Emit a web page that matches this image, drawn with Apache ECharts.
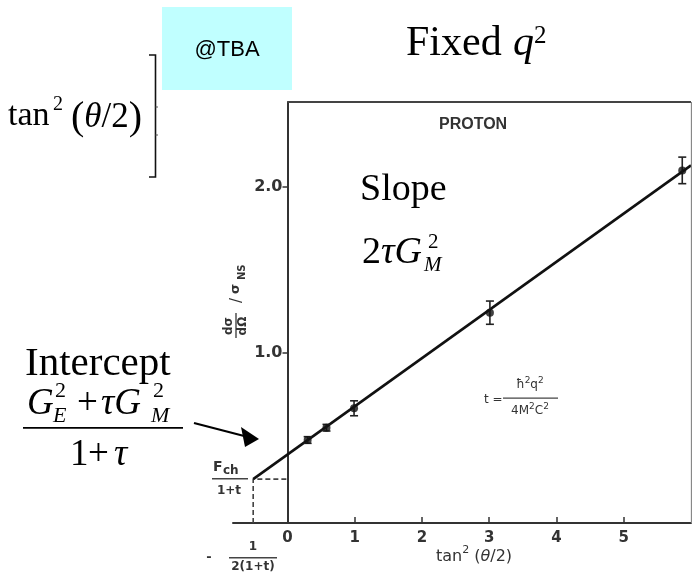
<!DOCTYPE html>
<html><head><meta charset="utf-8">
<script src="https://cdn.jsdelivr.net/npm/echarts@6/dist/echarts.min.js"></script>
<style>html,body{margin:0;padding:0;background:#fff}#c{width:692px;height:576px}</style>
</head><body><div id="c"></div>
<script>
// ---- data ----
const pointX = [0.30, 0.58, 0.99, 3.01, 5.87];
const pointY = [0.476, 0.55, 0.667, 1.243, 2.10];
const pointErr = [0.02, 0.02, 0.045, 0.07, 0.08];
const fitX = [-0.51, 6.0];
const fitY = [0.24, 2.13];
const interceptPoint = [-0.51, 0.24];
const xTickLabels = [0, 1, 2, 3, 4, 5];
const xTickMarks = [1, 2, 3, 4, 5];
const yTickLabels = [1.0, 2.0];
const xRange = [-0.81, 6.0];
const yRange = [-0.024, 2.512];

const SERIF = 'Liberation Serif';
const SANS = 'Liberation Sans';
const SCAN = 'DejaVu Sans';

const GRID = {left: 233, right: 1, top: 102, bottom: 53};
const gridWidth = 692 - GRID.left - GRID.right;
// y axis sits at x = 0, inside the grid
const yAxisOffset = -((0 - xRange[0]) / (xRange[1] - xRange[0])) * gridWidth;

function C(x, cy, text, size, o) {
  o = o || {};
  return {type: 'text', x: x, y: cy, silent: true, z: 50,
    style: {text: text, fontSize: size, fontFamily: o.fam || SERIF,
      fontStyle: o.italic ? 'italic' : 'normal', fontWeight: o.bold ? 'bold' : 'normal',
      fill: o.fill || '#000', textAlign: o.align || 'left', textVerticalAlign: 'middle',
      align: o.align || 'left', verticalAlign: 'middle'}};
}
function R(x, cy, text, rich, o) {
  o = o || {};
  return {type: 'text', x: x, y: cy, silent: true, z: 50,
    style: {text: text, rich: rich, fill: o.fill || '#000', textAlign: o.align || 'left',
      textVerticalAlign: 'middle', align: o.align || 'left', verticalAlign: 'middle'}};
}
function L(x1, y1, x2, y2, w, col) {
  return {type: 'line', silent: true, z: 50, shape: {x1: x1, y1: y1, x2: x2, y2: y2},
    style: {stroke: col || '#000', lineWidth: w || 1.5}};
}

const graphics = [];
// cyan sticker
graphics.push({type: 'rect', silent: true, z: 40, shape: {x: 162, y: 7, width: 130, height: 83}, style: {fill: '#c0ffff'}});
graphics.push(C(227, 50, '@TBA', 22, {fam: SANS, align: 'center'}));
// tan^2(theta/2) with bracket
graphics.push(C(8, 116, 'tan', 34));
graphics.push(C(53, 105, '2', 20));
graphics.push(R(71, 118, '{p|(}{i|θ}{n|/2}{p|)}', {
  p: {fontFamily: SERIF, fontSize: 40, fill: '#000'},
  i: {fontFamily: SERIF, fontSize: 35, fontStyle: 'italic', fill: '#000'},
  n: {fontFamily: SERIF, fontSize: 35, fill: '#000'}
}));
graphics.push({type: 'polyline', silent: true, z: 50, shape: {points: [[149, 55], [155.5, 55], [155.5, 177], [149, 177]]},
  style: {stroke: '#111', lineWidth: 1.6, fill: null}});
graphics.push(L(155.5, 107, 158, 107, 1, '#555'));
graphics.push(L(155.5, 135, 158, 135, 1, '#555'));
// Fixed q^2
graphics.push(C(406, 44, 'Fixed', 42));
graphics.push(C(513, 44, 'q', 42, {italic: true}));
graphics.push(C(534, 36, '2', 25));
// PROTON
graphics.push(C(439, 125, 'PROTON', 16, {fam: SANS, bold: true, fill: '#333'}));
// Slope 2 tau G_M^2
graphics.push(C(360, 190, 'Slope', 38));
graphics.push(R(362, 253, '{n|2}{i|τG}', {
  n: {fontFamily: SERIF, fontSize: 38, fill: '#000'},
  i: {fontFamily: SERIF, fontSize: 38, fontStyle: 'italic', fill: '#000'}
}));
graphics.push(C(428, 242, '2', 21));
graphics.push(C(424, 265, 'M', 21, {italic: true}));
// Intercept
graphics.push(C(25, 364, 'Intercept', 41));
graphics.push(C(27, 404, 'G', 37, {italic: true}));
graphics.push(C(55, 391, '2', 22));
graphics.push(C(53, 416, 'E', 22, {italic: true}));
graphics.push(C(77, 404, '+', 37));
graphics.push(C(101, 404, 'τG', 37, {italic: true}));
graphics.push(C(153, 391, '2', 22));
graphics.push(C(151, 416, 'M', 22, {italic: true}));
graphics.push({type: 'rect', silent: true, z: 50, shape: {x: 23, y: 427, width: 160, height: 1.8}, style: {fill: '#000'}});
graphics.push(C(70, 455, '1', 37));
graphics.push(C(88, 455, '+', 37));
graphics.push(C(114, 455, 'τ', 37, {italic: true}));
// arrow
graphics.push(L(194, 423, 248, 437, 2.2, '#000'));
graphics.push({type: 'polygon', silent: true, z: 50, shape: {points: [[259, 439], [241, 427], [245, 447]]}, style: {fill: '#000'}});
// scanned annotations
graphics.push(C(213, 467, 'F', 14, {fam: SCAN, bold: true, fill: '#333'}));
graphics.push(C(223, 471, 'ch', 12, {fam: SCAN, bold: true, fill: '#333'}));
graphics.push({type: 'rect', silent: true, z: 50, shape: {x: 212, y: 478, width: 36, height: 1.5}, style: {fill: '#444'}});
graphics.push(C(229, 491, '1+t', 12, {fam: SCAN, bold: true, fill: '#333', align: 'center'}));
graphics.push(C(209, 558, '-', 13, {fam: SCAN, bold: true, fill: '#333', align: 'center'}));
graphics.push(C(253, 547, '1', 12, {fam: SCAN, bold: true, fill: '#333', align: 'center'}));
graphics.push({type: 'rect', silent: true, z: 50, shape: {x: 229, y: 557, width: 48, height: 1.5}, style: {fill: '#444'}});
graphics.push(C(253, 567, '2(1+t)', 12, {fam: SCAN, bold: true, fill: '#333', align: 'center'}));
// t = hbar^2 q^2 / 4 M^2 c^2
graphics.push(C(484, 400, 't =', 12, {fam: SCAN, fill: '#333'}));
const smallRich = {
  a: {fontFamily: SCAN, fontSize: 12, fill: '#333', lineHeight: 18},
  s: {fontFamily: SCAN, fontSize: 9, fill: '#333', lineHeight: 9, verticalAlign: 'top'}
};
graphics.push(R(530, 385, '{a|ħ}{s|2}{a|q}{s|2}', smallRich, {align: 'center'}));
graphics.push({type: 'rect', silent: true, z: 50, shape: {x: 503, y: 397.5, width: 55, height: 1.3}, style: {fill: '#444'}});
graphics.push(R(530, 411, '{a|4M}{s|2}{a|C}{s|2}', smallRich, {align: 'center'}));
// x axis title
graphics.push(R(474, 557, '{a|tan}{s|2}{a| (}{i|θ}{a|/2)}', {
  a: {fontFamily: SCAN, fontSize: 16, fill: '#333', lineHeight: 24},
  i: {fontFamily: SCAN, fontSize: 16, fontStyle: 'italic', fill: '#333', lineHeight: 24},
  s: {fontFamily: SCAN, fontSize: 11, fill: '#333', lineHeight: 11, verticalAlign: 'top'}
}, {align: 'center'}));
// y axis title (rotated)
graphics.push({type: 'group', x: 236, y: 340, rotation: Math.PI / 2, silent: true, z: 50, children: [
  C(14, -7, 'dσ', 12, {fam: SCAN, bold: true, fill: '#333', align: 'center'}),
  {type: 'rect', silent: true, shape: {x: 2, y: -0.7, width: 25, height: 1.4}, style: {fill: '#444'}},
  C(14, 7, 'dΩ', 12, {fam: SCAN, bold: true, fill: '#333', align: 'center'}),
  C(37, 1, '/', 15, {fam: SCAN, fill: '#333'}),
  C(46, 0, 'σ', 13, {fam: SCAN, bold: true, fill: '#333'}),
  C(60, 6, 'NS', 10, {fam: SCAN, bold: true, fill: '#333'})
]});

const chart = echarts.init(document.getElementById('c'), null, {renderer: 'canvas'});
chart.setOption({
  animation: false,
  backgroundColor: '#fff',
  grid: {left: GRID.left, right: GRID.right, top: GRID.top, bottom: GRID.bottom, containLabel: false},
  xAxis: {
    type: 'value', min: xRange[0], max: xRange[1],
    axisLine: {onZero: false, lineStyle: {color: '#333', width: 2}},
    axisTick: {show: true, inside: true, length: 6, customValues: xTickMarks, lineStyle: {color: '#333', width: 1.5}},
    axisLabel: {customValues: xTickLabels, formatter: function (v) { return String(v); },
      color: '#333', fontSize: 15, fontFamily: SCAN, fontWeight: 'bold', margin: 8},
    splitLine: {show: false}
  },
  yAxis: {
    type: 'value', min: yRange[0], max: yRange[1], offset: yAxisOffset,
    axisLine: {show: true, onZero: false, lineStyle: {color: '#333', width: 2}},
    axisTick: {show: true, inside: false, length: 5, customValues: yTickLabels, lineStyle: {color: '#333', width: 1.5}},
    axisLabel: {customValues: yTickLabels, formatter: function (v) { return v.toFixed(1); },
      color: '#333', fontSize: 16, fontFamily: SCAN, fontWeight: 'bold', margin: 5},
    splitLine: {show: false}
  },
  graphic: graphics,
  series: [
    {
      type: 'line', name: 'fit', data: fitX.map(function (x, i) { return [x, fitY[i]]; }),
      symbol: 'none', lineStyle: {color: '#111', width: 2.6}, z: 3, silent: true
    },
    {
      type: 'line', name: 'intercept', data: [[interceptPoint[0], yRange[0]], interceptPoint, [0, interceptPoint[1]]],
      symbol: 'none', lineStyle: {color: '#444', width: 1.6, type: [5, 3]}, z: 2, silent: true,
      markLine: {
        silent: true, symbol: ['none', 'none'], label: {show: false},
        lineStyle: {type: 'solid', color: '#444', width: 2},
        data: [
          [{coord: [0, yRange[1]]}, {coord: [xRange[1], yRange[1]]}],
          [{coord: [xRange[1], yRange[0]], lineStyle: {color: '#888', width: 1.3}}, {coord: [xRange[1], yRange[1]]}]
        ]
      }
    },
    {
      type: 'custom', name: 'errors', silent: true, z: 4,
      data: pointX.map(function (x, i) { return [x, pointY[i], pointErr[i]]; }),
      encode: {x: 0, y: 1},
      renderItem: function (params, api) {
        var x = api.value(0), y = api.value(1), e = api.value(2);
        var top = api.coord([x, y + e]), bot = api.coord([x, y - e]);
        var hw = 4;
        var st = {stroke: '#222', lineWidth: 1.6};
        return {type: 'group', children: [
          {type: 'line', shape: {x1: top[0], y1: top[1], x2: bot[0], y2: bot[1]}, style: st},
          {type: 'line', shape: {x1: top[0] - hw, y1: top[1], x2: top[0] + hw, y2: top[1]}, style: st},
          {type: 'line', shape: {x1: bot[0] - hw, y1: bot[1], x2: bot[0] + hw, y2: bot[1]}, style: st}
        ]};
      }
    },
    {
      type: 'scatter', name: 'points', data: pointX.map(function (x, i) { return [x, pointY[i]]; }),
      symbol: 'circle', symbolSize: 8, itemStyle: {color: '#111'}, z: 5, silent: true
    }
  ]
});
</script></body></html>
